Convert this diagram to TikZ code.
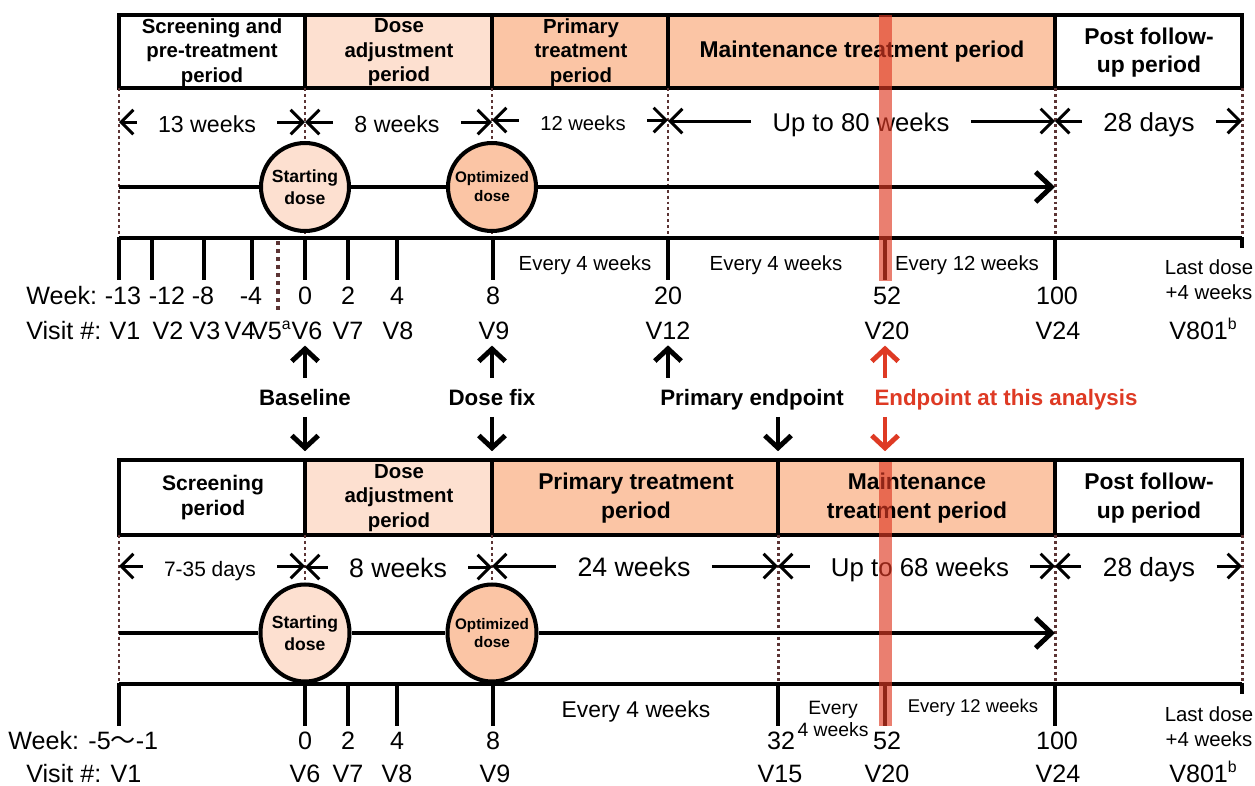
\documentclass[tikz,border=0pt]{standalone}
\usepackage{fontspec}
\setmainfont{Liberation Sans}
\newfontfamily\cjkfont{Noto Sans CJK JP}
\usetikzlibrary{arrows.meta, positioning, calc, shapes.geometric}

\definecolor{adjpeach}{RGB}{253,224,208}
\definecolor{trtpeach}{RGB}{251,197,165}
\definecolor{markred}{RGB}{222,58,36}
\definecolor{dotbrown}{RGB}{92,52,52}

\newcommand{\fsz}[2]{\fontsize{#1}{#2}\selectfont}
\newcommand{\supmark}[1]{\raisebox{0.75ex}{\fsz{9}{9}#1}}

\tikzset{
  hbox/.style={line width=2.3pt},
  htxt/.style={align=center, font=\bfseries\fsz{11.6}{13.9}},
  hbig/.style={align=center, font=\bfseries\fsz{13}{16.4}},
  guide/.style={dotbrown, line width=1.7pt, dash pattern=on 1.7pt off 1.7pt},
  spanlbl/.style={anchor=mid},
  spanarr/.style={line width=1.7pt, -{Straight Barb[length=7pt,width=14pt]}, shorten <=12pt},
  doseline/.style={line width=2.8pt, -{Straight Barb[length=9pt,width=17pt]}},
  dosec/.style={circle, draw, line width=2.3pt, minimum size=1.76cm},
  dosee/.style={ellipse, draw, line width=2.3pt, minimum width=1.78cm, minimum height=1.94cm},
  dosetxt/.style={align=center, font=\bfseries\fsz{10}{12.5}},
  tline/.style={line width=2.8pt},
  tickmark/.style={line width=2.6pt},
  wk/.style={anchor=base, font=\fsz{14.3}{17}},
  everylbl/.style={align=center, font=\fsz{11.6}{14.2}},
  midlbl/.style={anchor=base, font=\bfseries\fsz{12.7}{15}},
  vup/.style={line width=2.8pt, -{Straight Barb[length=7pt,width=15pt]}, shorten <=6pt, shorten >=3.4pt},
  vdn/.style={line width=2.8pt, -{Straight Barb[length=7pt,width=15pt]}, shorten <=6.8pt, shorten >=5pt},
  band/.style={fill=markred, opacity=0.65},
}

\begin{document}
\begin{tikzpicture}[x=0.02cm, y=-0.02cm, every node/.style={inner sep=0pt}]
\useasboundingbox (0,0) rectangle (1255,785);

% Boundaries
\foreach \n/\x in {0/119,1/305,2/492,3/668,4/1055,5/1242} {
  \coordinate (ta\n) at (\x,88);
  \coordinate (la\n) at (\x,238);
}
\foreach \n/\x in {0/119,1/305,2/492,3/778,4/1055,5/1242} {
  \coordinate (tbt\n) at (\x,460);
  \coordinate (tb\n) at (\x,535);
  \coordinate (lb\n) at (\x,684);
}
\coordinate (m52b) at (885,460);

% ---------------- Upper schedule ----------------
% Period boxes
\foreach \xa/\xb/\fc in {119/305/white, 305/492/adjpeach, 492/668/trtpeach, 668/1055/trtpeach, 1055/1242/white}
  \filldraw[hbox, fill=\fc] (\xa,15) rectangle (\xb,88);
\node[htxt] (hs1) at (212,52.5) {Screening and\\pre-treatment\\period};
\node[htxt] (hd1) at (399,52.5) {Dose\\adjustment\\period};
\node[htxt] (hp1) at (581,52.5) {Primary\\treatment\\period};
\node[hbig] (hm1) at (862,52) {Maintenance treatment period};
\node[hbig] (hf1) at (1149,52.5) {Post follow-\\up period};

% Dotted guides
\foreach \n in {0,...,5}
  \draw[guide] (ta\n) -- (la\n);

% Durations
\node[spanlbl, font=\fsz{13.2}{15}] (w13) at (207,128) {13 weeks};
\node[spanlbl, font=\fsz{13.2}{15}] (w8a) at (397,128) {8 weeks};
\node[spanlbl, font=\fsz{11.5}{14}] (w12) at (583,126) {12 weeks};
\node[spanlbl, font=\fsz{14.6}{17}] (w80) at (861,127) {Up to 80 weeks};
\node[spanlbl, font=\fsz{14.8}{17}] (d28a) at (1149,127) {28 days};
\foreach \nm/\l/\r in {w13/ta0/ta1, w8a/ta1/ta2, w12/ta2/ta3, w80/ta3/ta4, d28a/ta4/ta5} {
  \draw[spanarr] ([yshift=3.4pt]\nm.mid west) -- ([yshift=3.4pt]\nm.mid west -| \l);
  \draw[spanarr] ([yshift=3.4pt]\nm.mid east) -- ([yshift=3.4pt]\nm.mid east -| \r);
}

% Dose
\node[dosec, fill=adjpeach] (sd1) at (305,187) {};
\node[dosec, fill=trtpeach] (od1) at (492,187) {};
\node[dosetxt] (sd1t) at (sd1) {Starting\\dose};
\node[dosetxt, font=\bfseries\fsz{8.7}{10.8}] (od1t) at (od1) {Optimized\\dose};
\coordinate (dsa) at (119,187);
\coordinate (dea) at (1055,187);
\draw[doseline] (dsa) -- (sd1) -- (od1) -- (dea);

% Timeline
\draw[tline] (la0) -- (la5);
\foreach \x in {119,152,204,252,305,348,397,493,668,885,1055}
  \draw[tickmark] (\x,237) -- (\x,280);
\draw[tickmark] (1242,237) -- (1242,248);
\draw[guide, line width=2.3pt, dash pattern=on 2.3pt off 2.3pt] (278,241) -- (278,312);

\node[everylbl] (e4a) at (585,265) {Every 4 weeks};
\node[everylbl] (e4b) at (776,265) {Every 4 weeks};
\node[everylbl] (e12a) at (967,265) {Every 12 weeks};
\node[everylbl] (lda) at (1209,280) {Last dose\\+4 weeks};

% Weeks and visits
\node[wk, anchor=base west] (wka) at (26,304) {Week:};
\foreach \x/\t [count=\i] in {123/-13, 167/-12, 203/-8, 251/-4, 305/0, 348/2, 397/4, 493/8, 668/20, 887/52, 1057/100}
  \node[wk] (wa\i) at (\x,304) {\t};
\node[wk, anchor=base west] (vsa) at (26,339) {Visit \#:};
\foreach \x/\nm/\t in {125/v1/V1, 168/v2/V2, 205/v3/V3, 240/v4/V4, 271/v5/{V5\supmark{a}}, 307/v6/V6, 348/v7/V7, 398/v8/V8, 494/v9/V9, 668/v12/V12, 887/v20/V20, 1058/v24/V24, 1203/v801/{V801\supmark{b}}}
  \node[wk] (\nm) at (\x,339) {\t};

% ---------------- Analysis points ----------------
\node[midlbl] (base) at (305,405) {Baseline};
\node[midlbl] (dfix) at (492,405) {Dose fix};
\node[midlbl] (pend) at (752,405) {Primary endpoint};
\node[midlbl, text=markred] (eana) at (1006,405) {Endpoint at this analysis};

\draw[vup] (base.north) -- (base.north |- v6.south);
\draw[vup] (dfix.north) -- (dfix.north |- v9.south);
\draw[vup] (v12.south |- pend.north) -- (v12.south);
\draw[vup, markred] (m52b |- eana.north) -- (m52b |- v20.south);

\draw[vdn] (base.base) -- (base.base |- tbt1);
\draw[vdn] (dfix.base) -- (dfix.base |- tbt2);
\draw[vdn] (pend.base -| tbt3) -- (tbt3);
\draw[vdn, markred] (eana.base -| m52b) -- (m52b);

% ---------------- Lower schedule ----------------
% Period boxes
\foreach \xa/\xb/\fc in {119/305/white, 305/492/adjpeach, 492/778/trtpeach, 778/1055/trtpeach, 1055/1242/white}
  \filldraw[hbox, fill=\fc] (\xa,460) rectangle (\xb,535);
\node[align=center, font=\bfseries\fsz{12}{14.2}] (hs2) at (213,498) {Screening\\period};
\node[htxt] (hd2) at (399,498) {Dose\\adjustment\\period};
\node[hbig] (hp2) at (636,498) {Primary treatment\\period};
\node[hbig] (hm2) at (917,498) {Maintenance\\treatment period};
\node[hbig] (hf2) at (1149,498) {Post follow-\\up period};

% Dotted guides
\foreach \n in {0,...,5}
  \draw[guide] (tb\n) -- (lb\n);

% Durations
\node[spanlbl, font=\fsz{11.9}{14}] (d735) at (210,572) {7-35 days};
\node[spanlbl, font=\fsz{15.2}{17}] (w8b) at (398,573) {8 weeks};
\node[spanlbl, font=\fsz{15.2}{17}] (w24) at (634,572) {24 weeks};
\node[spanlbl, font=\fsz{14.7}{17}] (w68) at (920,572) {Up to 68 weeks};
\node[spanlbl, font=\fsz{15}{17}] (d28b) at (1149,572) {28 days};
\foreach \nm/\l/\r in {d735/tb0/tb1, w8b/tb1/tb2, w24/tb2/tb3, w68/tb3/tb4, d28b/tb4/tb5} {
  \draw[spanarr] ([yshift=3.4pt]\nm.mid west) -- ([yshift=3.4pt]\nm.mid west -| \l);
  \draw[spanarr] ([yshift=3.4pt]\nm.mid east) -- ([yshift=3.4pt]\nm.mid east -| \r);
}

% Dose
\node[dosee, fill=adjpeach] (sd2) at (305,633) {};
\node[dosee, fill=trtpeach] (od2) at (492,633) {};
\node[dosetxt] (sd2t) at (sd2) {Starting\\dose};
\node[dosetxt, font=\bfseries\fsz{8.7}{10.3}] (od2t) at (od2) {Optimized\\dose};
\coordinate (dsb) at (119,633);
\coordinate (deb) at (1055,633);
\draw[doseline] (dsb) -- (sd2) -- (od2) -- (deb);

% Timeline
\draw[tline] (lb0) -- (lb5);
\foreach \x in {119,305,348,397,493,778,885,1055}
  \draw[tickmark] (\x,683) -- (\x,726);
\draw[tickmark] (1242,683) -- (1242,694);

\node[everylbl, font=\fsz{13}{15}] (e4c) at (636,712) {Every 4 weeks};
\node[everylbl, font=\fsz{11}{12.5}] (e4d) at (833,719) {Every\\4 weeks};
\node[everylbl, font=\fsz{10.5}{12.5}] (e12b) at (973,708) {Every 12 weeks};
\node[everylbl] (ldb) at (1209,727) {Last dose\\+4 weeks};

% Weeks and visits
\node[wk, anchor=base west] (wkb) at (8,749) {Week: -5{\cjkfont ～}-1};
\foreach \x/\t [count=\i] in {305/0, 348/2, 397/4, 493/8, 781/32, 887/52, 1057/100}
  \node[wk] (wb\i) at (\x,749) {\t};
\node[wk, anchor=base west] (vsb) at (26,782) {Visit \#: V1};
\foreach \x/\nm/\t in {305/u6/V6, 348/u7/V7, 397/u8/V8, 495/u9/V9, 780/u15/V15, 887/u20/V20, 1058/u24/V24, 1203/u801/{V801\supmark{b}}}
  \node[wk] (\nm) at (\x,782) {\t};

% Analysis marker
\fill[band] (879,15) rectangle (892,281);
\fill[band] (879,462) rectangle (892,726);
\end{tikzpicture}
\end{document}
